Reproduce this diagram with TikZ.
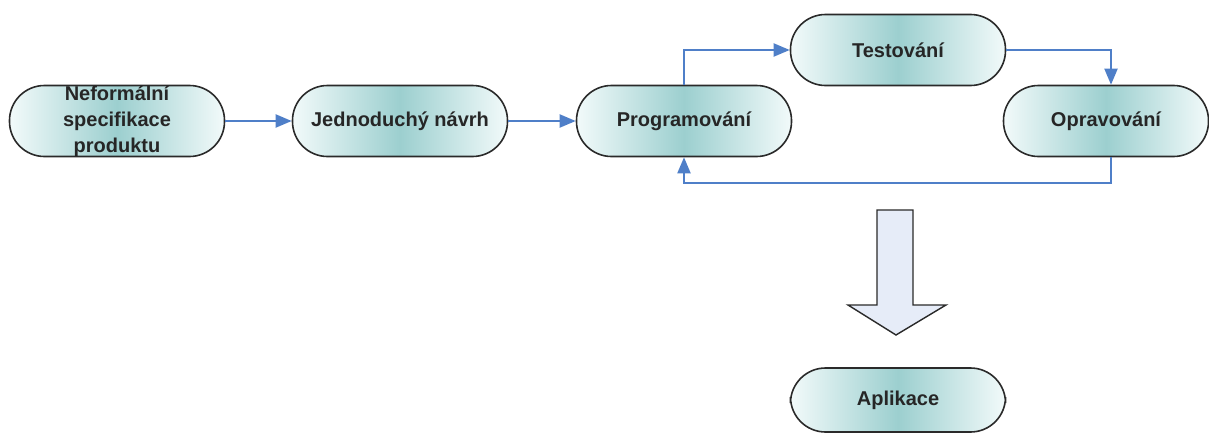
\documentclass[tikz,border=0pt]{standalone}
\usepackage{fontspec}
\setmainfont{Liberation Sans}
\usetikzlibrary{arrows.meta,calc}
\definecolor{linkblue}{HTML}{4F7FC8}
\definecolor{tealmid}{HTML}{9CCFCF}
\definecolor{tealedge}{HTML}{F2FAFA}
\definecolor{outline}{HTML}{2A2A2A}
\definecolor{bigarrow}{HTML}{E6ECF8}
\tikzset{
  stage/.style={draw=outline, line width=1.6pt, rounded corners=35pt,
    minimum width=215pt, minimum height=71pt, align=center,
    left color=tealedge, right color=tealedge, middle color=tealmid,
    font=\fontsize{20}{26}\selectfont\bfseries, text=black!85,
    inner sep=0pt},
  link/.style={draw=linkblue, line width=2pt,
    -{Triangle[length=16pt,width=13pt]}}
}
\begin{document}
\begin{tikzpicture}[x=1pt,y=-1pt]
\useasboundingbox (0,0) rectangle (1209,439);
\node[stage] (nef) at (117,121) {Neformální\\specifikace\\produktu};
\node[stage] (jed) at (400,121) {Jednoduchý návrh};
\node[stage] (prog) at (684,121) {Programování};
\node[stage] (test) at (898,50) {Testování};
\node[stage, minimum width=205pt] (opr) at (1106,121) {Opravování};
\node[stage, minimum height=64pt] (apl) at (898,400) {Aplikace};

\draw[link] (nef.east) -- (jed.west);
\draw[link] (jed.east) -- (prog.west);
\draw[link] (prog.north) |- (test.west);
\draw[link] (test.east) -| ([xshift=5pt]opr.north);
\coordinate (back) at (1111,183);
\draw[link] ([xshift=5pt]opr.south) -- (back) -| (prog.south);

% wide block arrow towards the final product
\draw[draw=outline, line width=1.4pt, fill=bigarrow]
  (877,210) -- (913,210) -- (913,305) -- (946,305) -- (896,335)
  -- (848,305) -- (877,305) -- cycle;
\end{tikzpicture}
\end{document}
